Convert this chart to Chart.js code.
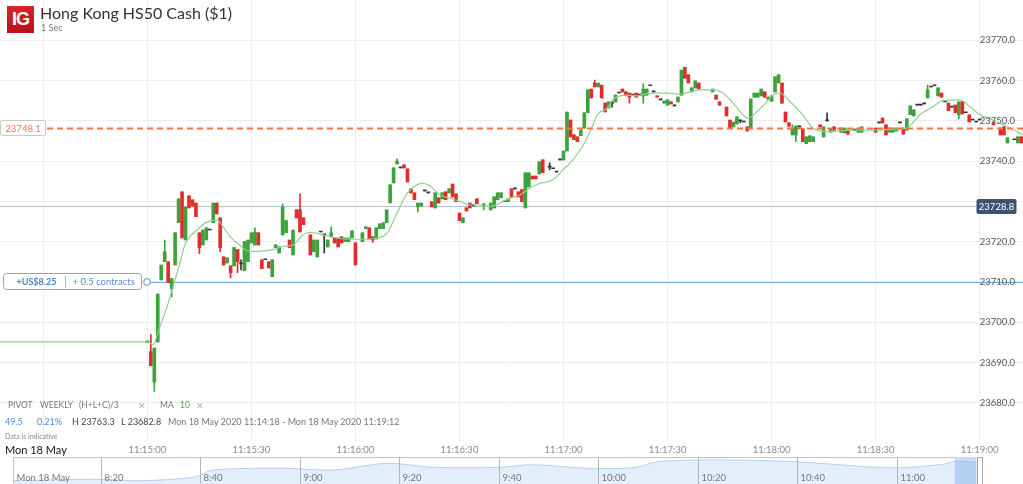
<!DOCTYPE html>
<html lang="en">
<head>
<meta charset="UTF-8">
<title>Hong Kong HS50 Cash ($1)</title>
<script src="https://cdn.jsdelivr.net/npm/chart.js"></script>
<style>
    body { margin: 0; background: #fff; }
    #wrap { position: relative; width: 1023px; height: 484px; overflow: hidden; background: #fff; font-family: 'Lato', sans-serif; }
    canvas { position: absolute; left: 0; }
    .t { position: absolute; white-space: nowrap; line-height: 1; }
    .logo {
        position: absolute; left: 7px; top: 6px; width: 27px; height: 27px;
        background: linear-gradient(#d9242a, #b5141a); color: #fff;
        font: bold 18px 'Liberation Sans', Arial, sans-serif; letter-spacing: -1px;
        text-align: center; line-height: 27px;
    }
</style>
</head>
<body>
<div id="wrap">
    <canvas id="main" width="1023" height="460" style="top:0;width:1023px;height:460px"></canvas>
    <canvas id="nav" width="1023" height="27" style="top:457px;width:1023px;height:27px"></canvas>

    <div class="logo">IG</div>
    <div class="t" style="left:40px;top:5px;font-size:16px;color:#333">Hong Kong HS50 Cash ($1)</div>
    <div class="t" style="left:41px;top:23px;font-size:9px;color:#777">1 Sec</div>

    <div class="t" style="left:8px;top:401px;font-size:8.5px;color:#777">PIVOT</div>
    <div class="t" style="left:40px;top:401px;font-size:8.5px;color:#777">WEEKLY</div>
    <div class="t" style="left:79px;top:401px;font-size:8.5px;color:#777">(H+L+C)/3</div>
    <div class="t" style="left:138px;top:401px;font-size:9px;color:#aaa">&#x2715;</div>
    <div class="t" style="left:160px;top:401px;font-size:8.5px;color:#777">MA</div>
    <div class="t" style="left:180px;top:401px;font-size:8.5px;color:#4cad4c">10</div>
    <div class="t" style="left:196px;top:401px;font-size:9px;color:#aaa">&#x2715;</div>

    <div class="t" style="left:5px;top:417px;font-size:9px;color:#4a8fd6">49.5</div>
    <div class="t" style="left:37px;top:417px;font-size:9px;color:#4a8fd6">0.21%</div>
    <div class="t" style="left:72px;top:417px;font-size:9px;color:#444">H 23763.3</div>
    <div class="t" style="left:121px;top:417px;font-size:9px;color:#444">L 23682.8</div>
    <div class="t" style="left:168px;top:417px;font-size:9px;color:#777">Mon 18 May 2020 11:14:18 - Mon 18 May 2020 11:19:12</div>
    <div class="t" style="left:5px;top:433px;font-size:7px;color:#888">Data is indicative</div>
    <div class="t" style="left:5px;top:444px;font-size:11px;color:#111">Mon 18 May</div>
</div>

<script>
    // Candles: seconds after 11:15:00
    const candleTimes = [0,1,2,3,4,5,6,7,8,9,
        10,11,12,13,14,15,16,17,18,19,
        20,21,22,23,24,25,26,27,28,29,
        30,31,32,33,34,35,36,37,38,39,
        40,41,42,43,44,45,47,48,49,50,
        51,52,53,54,55,56,57,58,59,60,
        62,63,64,65,66,67,68,69,70,71,
        72,73,74,75,76,77,78,79,80,81,
        82,83,84,85,86,87,88,89,90,91,
        92,93,94,95,97,99,100,101,102,103,
        104,105,106,107,108,109,110,111,112,113,
        114,116,117,118,119,120,121,122,123,124,
        125,126,127,128,129,130,131,132,133,134,
        135,136,137,138,139,140,141,142,143,144,
        145,146,147,148,149,150,151,152,153,154,
        155,156,157,158,159,163,164,165,167,168,
        169,170,171,172,173,174,175,176,177,178,
        179,180,181,182,183,184,185,186,187,188,
        189,190,191,192,194,195,196,197,198,200,
        201,202,204,205,206,210,211,212,213,214,
        215,216,217,218,219,220,221,222,223,224,
        225,226,227,228,229,230,231,232,233,234,
        235,236,237,238,239,240,244,246,247,248,
        250,251,252];

    const opens = [23694.9,23692.7,23685.2,23695.1,23710.5,23715.0,23715.0,23708.3,23714.2,23724.7,
        23732.4,23720.4,23731.4,23730.4,23729.6,23722.2,23719.2,23720.4,23722.9,23724.7,
        23729.6,23725.9,23716.2,23714.7,23714.0,23714.0,23718.0,23714.5,23712.8,23715.0,
        23719.7,23719.2,23722.2,23715.5,23715.5,23715.0,23711.3,23718.5,23717.2,23721.7,
        23722.2,23720.4,23716.7,23727.9,23727.9,23725.9,23721.7,23717.5,23716.2,23722.4,
        23721.7,23718.7,23721.2,23720.9,23720.9,23721.2,23720.0,23720.0,23720.9,23719.7,
        23720.0,23723.2,23723.4,23721.2,23720.7,23723.2,23723.2,23724.7,23729.6,23734.6,
        23739.3,23738.3,23739.1,23738.1,23733.1,23732.1,23728.6,23728.9,23732.6,23732.1,
        23729.9,23728.4,23730.9,23730.6,23732.4,23732.1,23734.3,23731.9,23727.1,23724.7,
        23728.4,23729.6,23728.9,23730.6,23728.9,23727.9,23728.4,23730.4,23730.9,23729.9,
        23729.9,23733.1,23733.1,23732.4,23732.9,23728.4,23733.6,23736.3,23736.3,23736.8,
        23740.3,23738.5,23738.1,23737.3,23740.3,23740.3,23742.5,23750.2,23746.5,23746.0,
        23746.3,23748.2,23752.0,23757.9,23759.4,23758.4,23758.9,23754.4,23753.2,23754.4,
        23754.7,23756.9,23757.9,23757.2,23756.9,23756.4,23756.9,23756.4,23756.2,23756.4,
        23758.7,23757.2,23756.2,23755.2,23754.4,23753.9,23754.7,23753.7,23754.7,23756.4,
        23763.3,23761.4,23757.2,23758.2,23759.4,23757.2,23756.4,23754.7,23753.4,23750.2,
        23748.5,23749.2,23750.0,23749.7,23748.5,23748.2,23755.9,23755.9,23756.2,23757.2,
        23755.4,23754.9,23757.2,23759.4,23759.4,23752.2,23749.5,23746.5,23746.5,23748.5,
        23748.0,23744.3,23744.8,23744.8,23749.0,23746.0,23750.0,23747.2,23748.5,23747.2,
        23747.0,23747.7,23747.7,23747.2,23747.2,23748.2,23749.5,23750.7,23749.0,23747.2,
        23747.2,23747.5,23749.5,23748.2,23747.7,23751.5,23751.2,23753.9,23753.9,23754.2,
        23755.7,23758.4,23758.7,23756.2,23756.9,23754.7,23754.4,23753.4,23753.9,23751.5,
        23754.7,23752.0,23751.5,23750.2,23749.7,23750.2,23749.7,23748.2,23748.5,23744.5,
        23745.3,23744.5,23746.0];

    const highs = [23695.4,23696.9,23693.6,23707.0,23714.2,23720.4,23715.0,23710.8,23722.2,23730.6,
        23732.4,23728.6,23731.4,23730.4,23729.6,23722.2,23722.9,23723.4,23722.9,23729.6,
        23729.6,23725.9,23716.2,23716.0,23714.0,23718.5,23718.0,23715.5,23720.0,23720.4,
        23722.2,23723.4,23722.2,23715.5,23715.5,23715.0,23715.5,23719.2,23718.7,23729.4,
        23725.2,23720.4,23722.9,23727.9,23731.9,23725.9,23721.7,23720.4,23720.4,23722.4,
        23721.7,23720.4,23723.7,23720.9,23720.9,23721.2,23720.9,23720.9,23722.7,23719.7,
        23722.2,23723.7,23723.4,23721.2,23723.4,23724.4,23724.7,23727.9,23734.1,23738.3,
        23740.5,23738.3,23739.1,23738.1,23733.1,23732.1,23729.6,23729.6,23732.6,23732.1,
        23729.9,23732.1,23730.9,23732.1,23732.4,23733.1,23734.3,23731.9,23727.1,23725.9,
        23728.4,23729.6,23728.9,23730.6,23729.4,23729.6,23731.1,23732.1,23732.1,23729.9,
        23730.6,23733.1,23733.1,23732.4,23732.9,23737.1,23737.1,23736.3,23736.3,23739.8,
        23740.3,23739.6,23738.1,23737.3,23740.3,23742.5,23752.2,23750.2,23746.5,23746.0,
        23747.7,23752.0,23757.7,23757.9,23760.1,23759.4,23758.9,23754.4,23754.7,23754.9,
        23756.4,23756.9,23757.9,23757.2,23756.9,23756.4,23756.9,23756.4,23759.2,23757.9,
        23758.7,23757.2,23756.2,23755.2,23754.9,23755.2,23754.7,23753.7,23755.9,23762.6,
        23763.3,23761.4,23758.2,23759.9,23759.4,23757.9,23756.4,23754.7,23753.4,23750.2,
        23749.7,23751.0,23750.2,23749.7,23748.5,23755.4,23756.9,23756.9,23757.9,23757.2,
        23755.9,23756.2,23760.9,23761.4,23759.4,23752.2,23749.5,23749.0,23748.7,23748.5,
        23748.0,23746.0,23746.3,23746.0,23749.0,23748.5,23752.0,23748.0,23748.5,23748.2,
        23748.2,23747.7,23747.7,23748.2,23748.5,23748.2,23749.5,23750.7,23749.0,23748.2,
        23748.2,23748.2,23749.5,23748.2,23750.5,23753.7,23752.7,23753.9,23753.9,23754.2,
        23758.9,23758.4,23758.7,23758.2,23756.9,23754.7,23754.4,23753.4,23753.9,23754.7,
        23754.7,23752.0,23751.5,23750.2,23749.7,23750.2,23749.7,23748.2,23748.5,23745.8,
        23745.3,23746.0,23746.0];

    const lows = [23694.9,23689.2,23682.8,23695.1,23710.5,23715.0,23709.8,23706.3,23714.2,23724.7,
        23720.9,23720.4,23728.4,23728.9,23726.2,23717.0,23719.2,23720.4,23722.9,23724.7,
        23726.9,23717.5,23714.2,23714.7,23711.0,23714.0,23712.3,23713.0,23712.8,23715.0,
        23719.7,23719.2,23719.2,23713.3,23715.5,23713.5,23711.3,23718.5,23717.2,23721.7,
        23722.2,23718.5,23716.7,23725.9,23722.4,23724.2,23716.7,23717.5,23716.2,23722.4,
        23717.2,23718.7,23721.2,23719.7,23718.7,23719.7,23720.0,23720.0,23720.9,23714.2,
        23720.0,23723.2,23720.7,23719.8,23720.7,23723.2,23723.2,23724.7,23729.6,23734.6,
        23739.3,23738.3,23738.3,23734.8,23732.1,23730.4,23727.4,23728.9,23732.6,23732.1,
        23728.6,23728.4,23729.6,23730.6,23730.4,23732.1,23731.1,23729.9,23725.2,23724.7,
        23727.6,23728.4,23728.9,23729.4,23727.9,23727.9,23728.4,23730.4,23730.9,23729.9,
        23729.9,23731.1,23733.1,23731.1,23729.9,23728.4,23733.6,23735.6,23735.6,23736.8,
        23737.1,23737.8,23738.1,23737.3,23740.3,23740.3,23742.5,23746.0,23745.3,23744.8,
        23746.3,23748.2,23752.0,23755.7,23758.4,23758.4,23755.7,23752.2,23753.2,23753.4,
        23754.7,23756.9,23757.2,23756.4,23754.4,23756.4,23755.9,23756.4,23754.4,23756.4,
        23758.7,23757.2,23755.9,23755.2,23754.4,23753.9,23754.2,23753.7,23754.7,23756.4,
        23760.6,23759.4,23757.2,23758.2,23757.9,23757.2,23755.4,23753.9,23751.2,23748.2,
        23748.5,23749.2,23749.5,23749.7,23747.5,23748.2,23755.9,23755.9,23756.2,23755.9,
        23755.4,23754.9,23757.2,23759.4,23754.4,23749.7,23748.7,23746.5,23744.8,23748.5,
        23744.8,23744.3,23744.8,23744.8,23748.5,23746.0,23750.0,23747.2,23747.7,23747.2,
        23747.0,23746.7,23747.7,23747.2,23747.2,23747.2,23749.5,23749.5,23746.5,23747.2,
        23747.2,23747.5,23749.5,23746.7,23747.7,23751.5,23751.2,23753.9,23753.9,23754.2,
        23755.7,23758.4,23758.7,23756.2,23755.9,23754.7,23752.5,23753.4,23752.0,23750.5,
        23751.7,23752.0,23749.7,23750.2,23749.7,23750.2,23749.0,23746.5,23746.5,23744.5,
        23745.3,23744.5,23744.5];

    const closes = [23695.4,23689.2,23693.6,23707.0,23714.2,23717.5,23709.8,23710.8,23722.2,23730.6,
        23720.9,23728.6,23728.4,23728.9,23726.2,23718.5,23722.9,23723.4,23722.9,23729.6,
        23726.9,23718.5,23714.2,23716.0,23712.3,23718.5,23715.0,23714.5,23720.0,23720.4,
        23722.2,23722.4,23719.2,23713.3,23715.5,23713.5,23715.5,23719.2,23718.7,23728.6,
        23725.2,23718.5,23722.9,23725.9,23722.4,23724.2,23716.7,23720.4,23720.4,23722.4,
        23721.7,23720.4,23722.2,23719.7,23718.7,23719.7,23720.9,23720.9,23722.7,23714.2,
        23722.2,23723.7,23720.7,23720.4,23723.4,23724.4,23724.7,23727.9,23734.1,23738.3,
        23740.0,23738.3,23738.3,23734.8,23732.1,23730.4,23729.6,23729.6,23732.6,23732.1,
        23728.6,23732.1,23729.6,23732.1,23730.4,23733.1,23731.1,23729.9,23725.2,23725.9,
        23727.6,23728.4,23728.9,23729.4,23729.4,23729.6,23731.1,23732.1,23732.1,23729.9,
        23730.6,23731.1,23733.1,23731.1,23729.9,23737.1,23737.1,23735.6,23735.6,23739.8,
        23737.1,23738.5,23738.1,23737.3,23740.3,23742.5,23752.2,23746.0,23745.3,23744.8,
        23747.7,23752.0,23757.7,23755.7,23758.4,23759.4,23755.7,23752.2,23754.7,23754.4,
        23756.4,23756.9,23757.2,23756.4,23755.9,23756.4,23755.9,23756.4,23757.9,23757.9,
        23758.7,23757.2,23755.9,23755.2,23754.9,23755.2,23754.2,23753.7,23755.9,23762.6,
        23760.6,23759.4,23758.2,23759.9,23757.9,23757.9,23755.4,23753.9,23751.2,23748.2,
        23749.7,23751.0,23750.0,23749.7,23747.5,23755.4,23756.9,23756.9,23757.9,23755.9,
        23755.9,23756.2,23760.9,23761.4,23754.4,23749.7,23748.7,23748.2,23748.7,23748.5,
        23744.8,23746.0,23746.3,23746.0,23748.5,23748.5,23750.0,23748.0,23747.7,23748.2,
        23748.2,23746.7,23747.7,23748.2,23748.5,23747.2,23749.5,23749.5,23746.5,23748.2,
        23748.2,23748.2,23749.5,23746.7,23750.5,23753.7,23752.7,23753.9,23753.9,23754.2,
        23757.7,23758.4,23758.7,23758.2,23755.9,23754.7,23752.5,23753.4,23752.0,23754.7,
        23751.7,23752.0,23749.7,23750.2,23749.7,23750.2,23749.0,23746.5,23746.5,23745.8,
        23745.3,23746.0,23744.5];

    // MA 10 line
    const maTimes = [-42.5, 0, 1.6, 3.6, 5.7, 7.4, 9.4, 10.8, 12.3, 14.3, 16.6, 20.1, 21.8, 23.8, 26.6, 28.1,
        30.4, 33.3, 36.2, 39.1, 42.0, 44.9, 46.9, 50.6, 54.7, 58.4, 62.2, 66.2, 69.1, 72.0, 74.9, 77.7,
        79.5, 81.5, 84.4, 87.2, 90.1, 93.0, 95.9, 98.8, 101.7, 104.6, 107.4, 110.3, 113.2, 116.9, 119.8,
        122.7, 125.6, 127.6, 129.9, 132.5, 134.8, 138.3, 141.2, 144.9, 149.8, 153.6, 156.5, 159.4, 163.1,
        166.0, 168.9, 171.7, 173.2, 175.8, 178.7, 180.4, 182.4, 185.3, 189.0, 191.9, 195.9, 200.6, 205.5,
        210.4, 215.0, 219.0, 222.8, 226.5, 229.4, 234.3, 237.2, 240.1, 243.8, 248.7, 252.5];
    const maValues = [23695.1, 23695.1, 23694.4, 23698.9, 23703.9, 23708.9, 23714.7, 23719.2, 23721.3, 23722.9,
        23724.6, 23725.4, 23723.7, 23721.3, 23719.2, 23718.0, 23717.5, 23717.7, 23718.0, 23718.8, 23719.2,
        23721.7, 23722.3, 23721.7, 23720.9, 23720.6, 23720.6, 23720.9, 23722.1, 23727.1, 23732.0, 23734.1,
        23734.5, 23733.8, 23731.6, 23730.8, 23730.0, 23729.1, 23729.1, 23728.7, 23729.6, 23730.8, 23731.6,
        23733.3, 23734.5, 23735.3, 23737.8, 23740.3, 23743.8, 23747.2, 23751.7, 23753.0, 23755.7, 23756.4,
        23756.2, 23756.9, 23756.9, 23756.6, 23757.2, 23757.7, 23757.7, 23756.9, 23754.4, 23751.5, 23750.6,
        23752.3, 23754.8, 23756.4, 23756.9, 23754.8, 23751.5, 23748.2, 23747.3, 23747.6, 23747.7, 23747.7,
        23747.9, 23748.2, 23751.5, 23753.5, 23755.0, 23755.2, 23753.5, 23751.5, 23750.2, 23748.2, 23746.5];

    // Axes
    const xMin = -42.5, xMax = 252.5;
    const xTickSeconds = [-30, 0, 30, 60, 90, 120, 150, 180, 210, 240];
    const yMin = 23670.6, yMax = 23780;
    const yTicks = [23680, 23690, 23700, 23710, 23720, 23730, 23740, 23750, 23760, 23770];

    // Levels
    const pivotLevel = 23748.1;
    const lastPrice = 23728.8;
    const positionLevel = 23710;
    const positionPnl = '+US$8.25';
    const positionSize = '+ 0.5 contracts';

    // Navigator (minutes after 8:00)
    const navMinutes = [2.3, 9.7, 19.8, 27.8, 38.9, 42.5, 57.4, 66.7, 77.5, 86.8, 100.2, 106.9,
        117.7, 127.0, 132.4, 147.1, 160.6, 174.0, 180.7, 189.3, 191.7, 196.1];
    const navPrices = [23534, 23541, 23549, 23534, 23573, 23645, 23663, 23645, 23715, 23673, 23673, 23700,
        23663, 23669, 23735, 23749, 23728, 23679, 23669, 23704, 23735, 23725];
    const navTickMinutes = [20, 40, 60, 80, 100, 120, 140, 160, 180];
    const navTickLabels = ['8:20', '8:40', '9:00', '9:20', '9:40', '10:00', '10:20', '10:40', '11:00'];
    const navWindow = [191.7, 196.1];

    const GREEN = '#3da13d', RED = '#e12c2c', FLAT = '#333333';
    Chart.defaults.font.family = 'Lato';

    function clock(sec) {
        const total = 11 * 3600 + 15 * 60 + sec;
        const pad = n => String(n).padStart(2, '0');
        return pad(Math.floor(total / 3600)) + ':' + pad(Math.floor(total / 60) % 60) + ':' + pad(total % 60);
    }

    function box(ctx, x, y, w, h, r) {
        ctx.beginPath();
        ctx.moveTo(x + r, y);
        ctx.lineTo(x + w - r, y);
        ctx.quadraticCurveTo(x + w, y, x + w, y + r);
        ctx.lineTo(x + w, y + h - r);
        ctx.quadraticCurveTo(x + w, y + h, x + w - r, y + h);
        ctx.lineTo(x + r, y + h);
        ctx.quadraticCurveTo(x, y + h, x, y + h - r);
        ctx.lineTo(x, y + r);
        ctx.quadraticCurveTo(x, y, x + r, y);
        ctx.closePath();
    }

    const candleColors = candleTimes.map((t, i) =>
        closes[i] > opens[i] ? GREEN : (closes[i] < opens[i] ? RED : FLAT));

    // Horizontal levels, labels and price axis text
    const levelsPlugin = {
        id: 'levels',
        beforeDatasetsDraw(chart) {
            const {ctx, chartArea, scales: {y}} = chart;
            ctx.save();
            // last price line
            let py = Math.round(y.getPixelForValue(lastPrice)) + 0.5;
            ctx.strokeStyle = '#b3c0d3';
            ctx.lineWidth = 1;
            ctx.beginPath(); ctx.moveTo(chartArea.left, py); ctx.lineTo(976, py); ctx.stroke();
            // open position line
            py = Math.round(y.getPixelForValue(positionLevel)) + 0.5;
            ctx.strokeStyle = '#7fa8d8';
            ctx.lineWidth = 1.2;
            ctx.beginPath(); ctx.moveTo(150, py); ctx.lineTo(chartArea.right, py); ctx.stroke();
            ctx.restore();
        },
        afterDatasetsDraw(chart) {
            const {ctx, chartArea, scales: {y}} = chart;
            ctx.save();
            // pivot dashed line
            let py = y.getPixelForValue(pivotLevel);
            ctx.strokeStyle = '#f4733f';
            ctx.lineWidth = 2;
            ctx.setLineDash([6, 4]);
            ctx.beginPath(); ctx.moveTo(47, py); ctx.lineTo(chartArea.right, py); ctx.stroke();
            ctx.setLineDash([]);

            ctx.textBaseline = 'middle';
            // pivot label
            box(ctx, 0.5, Math.round(py) - 7.5, 45, 15, 1.5);
            ctx.fillStyle = '#fff'; ctx.fill();
            ctx.strokeStyle = '#c9c9c9'; ctx.lineWidth = 1; ctx.stroke();
            ctx.fillStyle = '#f07b4f'; ctx.font = '9.5px Lato'; ctx.textAlign = 'center';
            ctx.fillText(pivotLevel.toFixed(1), 23, py + 0.5);

            // position label
            py = y.getPixelForValue(positionLevel);
            box(ctx, 3.5, Math.round(py) - 8.5, 138, 16, 3);
            ctx.fillStyle = '#fff'; ctx.fill();
            ctx.strokeStyle = '#7fa8d8'; ctx.lineWidth = 1; ctx.stroke();
            ctx.textAlign = 'left';
            ctx.fillStyle = '#4f82c0'; ctx.font = 'bold 9px Lato';
            ctx.fillText(positionPnl, 16.5, py);
            ctx.fillStyle = '#5a8ac6'; ctx.font = '9.5px Lato';
            ctx.fillText(positionSize, 72.5, py);
            ctx.beginPath(); ctx.moveTo(65.5, py - 6); ctx.lineTo(65.5, py + 6);
            ctx.strokeStyle = '#9dbbe0'; ctx.stroke();
            ctx.beginPath(); ctx.arc(147, py, 3.2, 0, Math.PI * 2);
            ctx.fillStyle = '#fff'; ctx.fill();
            ctx.strokeStyle = '#7fa8d8'; ctx.lineWidth = 1.2; ctx.stroke();

            // price axis labels
            ctx.font = '9.5px Lato'; ctx.fillStyle = '#555'; ctx.textAlign = 'right';
            yTicks.forEach(v => {
                if (Math.abs(v - lastPrice) < 3) return;
                ctx.fillText(v.toFixed(1), 1015, y.getPixelForValue(v));
            });

            // last price tag
            py = y.getPixelForValue(lastPrice);
            box(ctx, 976.5, Math.round(py) - 7, 40, 15, 2);
            ctx.fillStyle = '#3e5272'; ctx.fill();
            ctx.fillStyle = '#fff'; ctx.textAlign = 'center';
            ctx.fillText(lastPrice.toFixed(1), 996.5, py + 0.5);
            ctx.restore();
        }
    };

    new Chart(document.getElementById('main'), {
        type: 'line',
        data: {
            datasets: [{
                type: 'line',
                label: 'MA 10',
                data: maTimes.map((t, i) => ({x: t, y: maValues[i]})),
                borderColor: '#8fd18f',
                borderWidth: 1.2,
                pointRadius: 0,
                fill: false,
                cubicInterpolationMode: 'monotone',
                order: 0
            }, {
                type: 'bar',
                label: 'Body',
                data: candleTimes.map((t, i) => ({x: t, y: [opens[i], closes[i]]})),
                backgroundColor: candleColors,
                borderWidth: 0,
                barThickness: 3,
                minBarLength: 1,
                grouped: false,
                order: 1
            }, {
                type: 'bar',
                label: 'Wick',
                data: candleTimes.map((t, i) => ({x: t, y: [lows[i], highs[i]]})),
                backgroundColor: candleColors,
                borderWidth: 0,
                barThickness: 1,
                grouped: false,
                order: 2
            }]
        },
        options: {
            responsive: false,
            animation: false,
            devicePixelRatio: 1,
            layout: {padding: 0},
            plugins: {legend: {display: false}, tooltip: {enabled: false}},
            scales: {
                x: {
                    type: 'linear',
                    min: xMin,
                    max: xMax,
                    offset: false,
                    afterBuildTicks: axis => { axis.ticks = xTickSeconds.map(v => ({value: v})); },
                    grid: {color: '#eeeeee', drawTicks: false, offset: false},
                    border: {display: false},
                    ticks: {
                        autoSkip: false,
                        maxRotation: 0,
                        padding: 4,
                        color: '#888',
                        font: {size: 9.5},
                        callback: v => (v < 0 ? '' : clock(v))
                    }
                },
                y: {
                    type: 'linear',
                    position: 'right',
                    min: yMin,
                    max: yMax,
                    afterBuildTicks: axis => { axis.ticks = yTicks.map(v => ({value: v})); },
                    grid: {color: '#eeeeee', drawTicks: false},
                    border: {display: false},
                    ticks: {display: false}
                }
            }
        },
        plugins: [levelsPlugin]
    });

    // Navigator strip
    const navPlugin = {
        id: 'navDecor',
        afterDatasetsDraw(chart) {
            const {ctx, scales: {x}} = chart;
            const h = chart.height;
            const left = Math.round(x.getPixelForValue(navMinutes[0])) + 0.5;
            const w0 = x.getPixelForValue(navWindow[0]);
            const w1 = x.getPixelForValue(navWindow[1]);
            ctx.save();
            ctx.fillStyle = 'rgba(110,165,225,0.38)';
            ctx.fillRect(w0, 0, w1 - w0, h);

            ctx.strokeStyle = '#c4c4c4';
            ctx.lineWidth = 1;
            ctx.beginPath();
            ctx.moveTo(left, h); ctx.lineTo(left, 0.5); ctx.lineTo(w0, 0.5);
            ctx.stroke();

            ctx.strokeStyle = '#b5b5b5';
            ctx.font = '9.5px Lato';
            ctx.fillStyle = '#777';
            ctx.textBaseline = 'middle';
            navTickMinutes.forEach((m, i) => {
                const px = Math.round(x.getPixelForValue(m)) + 0.5;
                ctx.beginPath(); ctx.moveTo(px, 0); ctx.lineTo(px, h); ctx.stroke();
                ctx.fillText(navTickLabels[i], px + 3, 21);
            });
            ctx.fillText('Mon 18 May', left + 3, 21);

            // handle
            ctx.fillStyle = '#fff';
            ctx.fillRect(w1, 0, 6, h);
            ctx.strokeStyle = '#a8a8a8';
            ctx.strokeRect(Math.round(w1) + 0.5, 0.5, 5, h);
            ctx.restore();
        }
    };

    new Chart(document.getElementById('nav'), {
        type: 'line',
        data: {
            datasets: [{
                data: navMinutes.map((m, i) => ({x: m, y: navPrices[i]})),
                borderColor: '#b7d0ec',
                backgroundColor: '#e3eefa',
                borderWidth: 1,
                pointRadius: 0,
                fill: 'start',
                tension: 0.3
            }]
        },
        options: {
            responsive: false,
            animation: false,
            devicePixelRatio: 1,
            layout: {padding: 0},
            plugins: {legend: {display: false}, tooltip: {enabled: false}},
            scales: {
                x: {type: 'linear', display: false, min: -0.3, max: 205.4},
                y: {type: 'linear', display: false, min: 23500, max: 23780}
            }
        },
        plugins: [navPlugin]
    });
</script>
</body>
</html>
